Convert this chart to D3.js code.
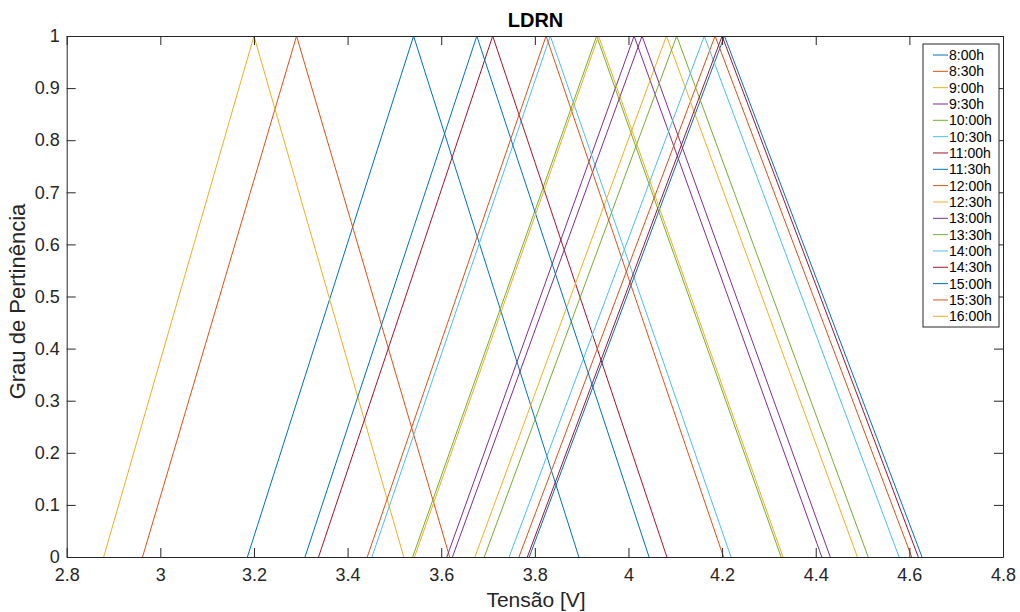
<!DOCTYPE html>
<html><head><meta charset="utf-8">
<script src="https://cdn.jsdelivr.net/npm/d3@7"></script>
<style>body{margin:0;background:#fff;}svg{display:block;font-family:Arial,"Liberation Sans",sans-serif;}</style>
</head><body>
<svg id="c" width="1020" height="612"></svg>
<script>
const times = ["8:00h","8:30h","9:00h","9:30h","10:00h","10:30h","11:00h","11:30h","12:00h","12:30h","13:00h","13:30h","14:00h","14:30h","15:00h","15:30h","16:00h"];
const leftBase  = [3.186,2.962,2.879,3.612,3.539,3.452,3.338,3.788,3.766,3.672,3.624,3.692,3.745,3.784,3.309,3.442,3.543];
const peak      = [3.541,3.291,3.200,4.012,3.932,3.833,3.710,4.205,4.185,4.081,4.029,4.103,4.162,4.200,3.676,3.824,3.936];
const rightBase = [3.894,3.618,3.520,4.413,4.326,4.219,4.082,4.627,4.605,4.489,4.431,4.512,4.578,4.619,4.044,4.203,4.330];
const xTicks = [2.8,3,3.2,3.4,3.6,3.8,4,4.2,4.4,4.6,4.8];
const yTicks = [0,0.1,0.2,0.3,0.4,0.5,0.6,0.7,0.8,0.9,1];
const palette = ["#0072BD","#D95319","#EDB120","#7E2F8E","#77AC30","#4DBEEE","#A2142F"];

const L=66.7, R=1003, T=36, B=557;
const svg=d3.select("#c");
const x=d3.scaleLinear().domain([2.8,4.8]).range([L,R]);
const y=d3.scaleLinear().domain([0,1]).range([B,T]);
const axCol="#262626";
const tl=9;

// series
const line=d3.line().x(d=>x(d[0])).y(d=>y(d[1]));
const series=times.map((t,i)=>({t,c:palette[i%7],pts:[[leftBase[i],0],[peak[i],1],[rightBase[i],0]]}));
svg.append("g").selectAll("path").data(series).join("path")
  .attr("d",d=>line(d.pts)).attr("fill","none").attr("stroke",d=>d.c).attr("stroke-width",1);

// axes
const fmt=d=>String(+d.toFixed(1));
const gx=svg.append("g").attr("transform",`translate(0,${B})`).call(d3.axisBottom(x).tickValues(xTicks).tickFormat(fmt).tickSizeInner(-tl).tickSizeOuter(0).tickPadding(11));
const gxt=svg.append("g").attr("transform",`translate(0,${T})`).call(d3.axisTop(x).tickValues(xTicks).tickFormat("").tickSizeInner(-tl).tickSizeOuter(0));
const gy=svg.append("g").attr("transform",`translate(${L},0)`).call(d3.axisLeft(y).tickValues(yTicks).tickFormat(fmt).tickSizeInner(-tl).tickSizeOuter(0).tickPadding(7));
const gyr=svg.append("g").attr("transform",`translate(${R},0)`).call(d3.axisRight(y).tickValues(yTicks).tickFormat("").tickSizeInner(-tl).tickSizeOuter(0));
[gx,gxt,gy,gyr].forEach(g=>{
  g.selectAll("path,line").attr("stroke",axCol).attr("stroke-width",1);
  g.selectAll("text").attr("fill",axCol).style("font-size","18px").style("font-family","Arial,'Liberation Sans',sans-serif");
});

// title and labels
svg.append("text").attr("x",535.5).attr("y",27.3).attr("text-anchor","middle").attr("font-weight","bold").attr("font-size","20px").attr("fill","#000").text("LDRN");
svg.append("text").attr("x",536).attr("y",606.7).attr("text-anchor","middle").attr("font-size","21px").attr("fill",axCol).text("Tensão [V]");
svg.append("text").attr("transform",`translate(25,301.5) rotate(-90)`).attr("text-anchor","middle").attr("font-size","22px").attr("fill",axCol).text("Grau de Pertinência");

// legend
const lg=svg.append("g");
const lx=923, ly=44, lw=76, lh=283, step=16.33;
lg.append("rect").attr("x",lx).attr("y",ly).attr("width",lw).attr("height",lh).attr("fill","#fff").attr("stroke",axCol).attr("stroke-width",1);
const it=lg.selectAll("g.it").data(series).join("g").attr("transform",(d,i)=>`translate(0,${55+i*step})`);
it.append("line").attr("x1",933).attr("x2",948).attr("y1",0).attr("y2",0).attr("stroke",d=>d.c);
it.append("text").attr("x",949).attr("y",5).attr("font-size","14px").attr("fill","#000").text(d=>d.t);
</script>
</body></html>
